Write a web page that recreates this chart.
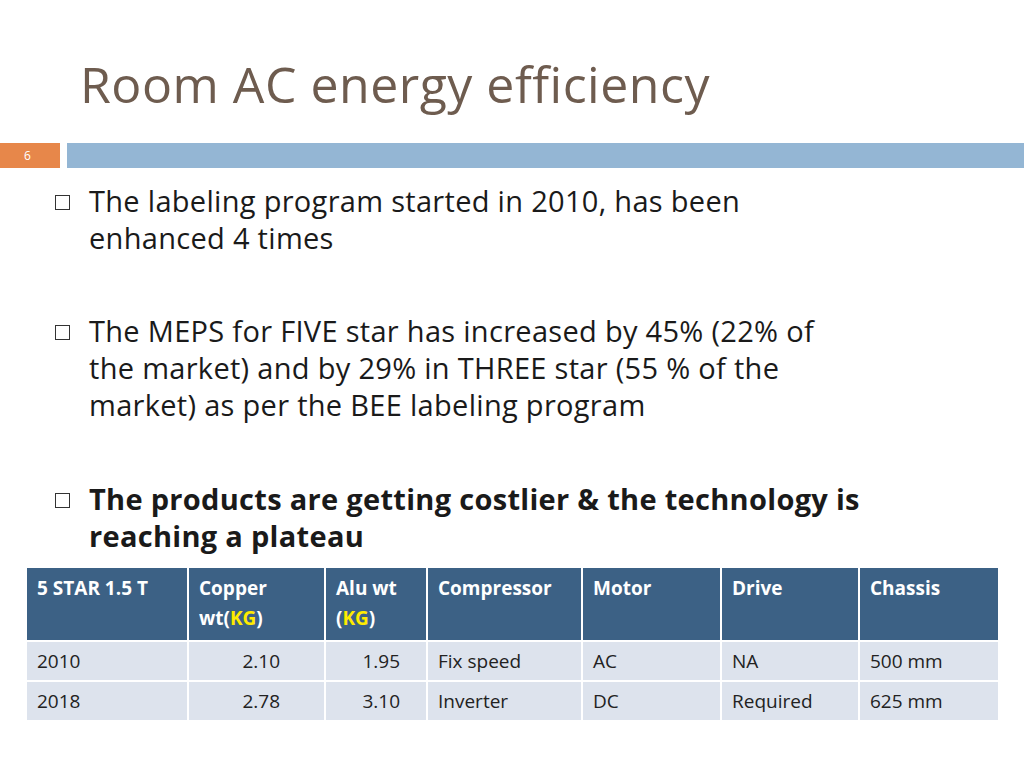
<!DOCTYPE html>
<html><head><meta charset="utf-8">
<script src="https://cdn.jsdelivr.net/npm/chart.js@4"></script>
<style>
body{margin:0;width:1024px;height:768px;background:#fff;font-family:"Open Sans",Lato,sans-serif;position:relative;overflow:hidden}
#title{position:absolute;left:80px;top:50px;font-size:50px;color:#6e5c4f;letter-spacing:0.5px}
#num{position:absolute;left:0;top:143px;width:60px;height:25px;background:#e7874a;color:#fff;font-size:12px;line-height:25px;padding-left:24px;box-sizing:border-box}
#bar{position:absolute;left:67px;top:143px;right:0;height:25px;background:#94b6d4}
.b{position:absolute;left:89px;font-size:29px;line-height:37px;color:#1a1a1a;width:900px;letter-spacing:0.3px}
.b:before{content:"";position:absolute;left:-34px;top:13px;width:13px;height:13px;border:1.5px solid #333}
table{position:absolute;left:25px;top:566px;border-collapse:collapse;font-size:19px;table-layout:fixed;width:975px}
td{border:2px solid #fff;padding:7px 10px;vertical-align:top;line-height:30px}
thead td{background:#3c6185;color:#fff;font-weight:bold;height:52px;padding-top:5px}
tbody td{background:#dde3ed;color:#222;height:24px;padding-top:4px;padding-bottom:4px}
.n{text-align:right;padding-right:44px}
.y{color:#ffeb00}
</style></head><body>
<div id="title">Room AC energy efficiency</div>
<div id="num">6</div><div id="bar"></div>
<div class="b" style="top:182px">The labeling program started in 2010, has been<br>enhanced 4 times</div>
<div class="b" style="top:312px">The MEPS for FIVE star has increased by 45% (22% of<br>the market) and by 29% in THREE star (55 % of the<br>market) as per the BEE labeling program</div>
<div class="b" style="top:480px;font-weight:bold">The products are getting costlier &amp; the technology is<br>reaching a plateau</div>
<table id="t"></table>
<script>
const headers = ["5 STAR 1.5 T", "Copper<br>wt(<span class='y'>KG</span>)", "Alu wt<br>(<span class='y'>KG</span>)", "Compressor", "Motor", "Drive", "Chassis"];
const years = ["2010", "2018"];
const copper = ["2.10", "2.78"];
const alu = ["1.95", "3.10"];
const compressor = ["Fix speed", "Inverter"];
const motor = ["AC", "DC"];
const drive = ["NA", "Required"];
const chassis = ["500 mm", "625 mm"];
const widths = [162, 137, 102, 155, 139, 138, 140];

const t = document.getElementById("t");
let h = "<colgroup>" + widths.map(w => `<col style="width:${w}px">`).join("") + "</colgroup>";
h += "<thead><tr>" + headers.map(x => `<td>${x}</td>`).join("") + "</tr></thead><tbody>";
years.forEach((y, i) => {
  h += `<tr><td>${y}</td><td class="n">${copper[i]}</td><td class="n" style="padding-right:26px">${alu[i]}</td><td>${compressor[i]}</td><td>${motor[i]}</td><td>${drive[i]}</td><td>${chassis[i]}</td></tr>`;
});
t.innerHTML = h + "</tbody>";
</script>
</body></html>
